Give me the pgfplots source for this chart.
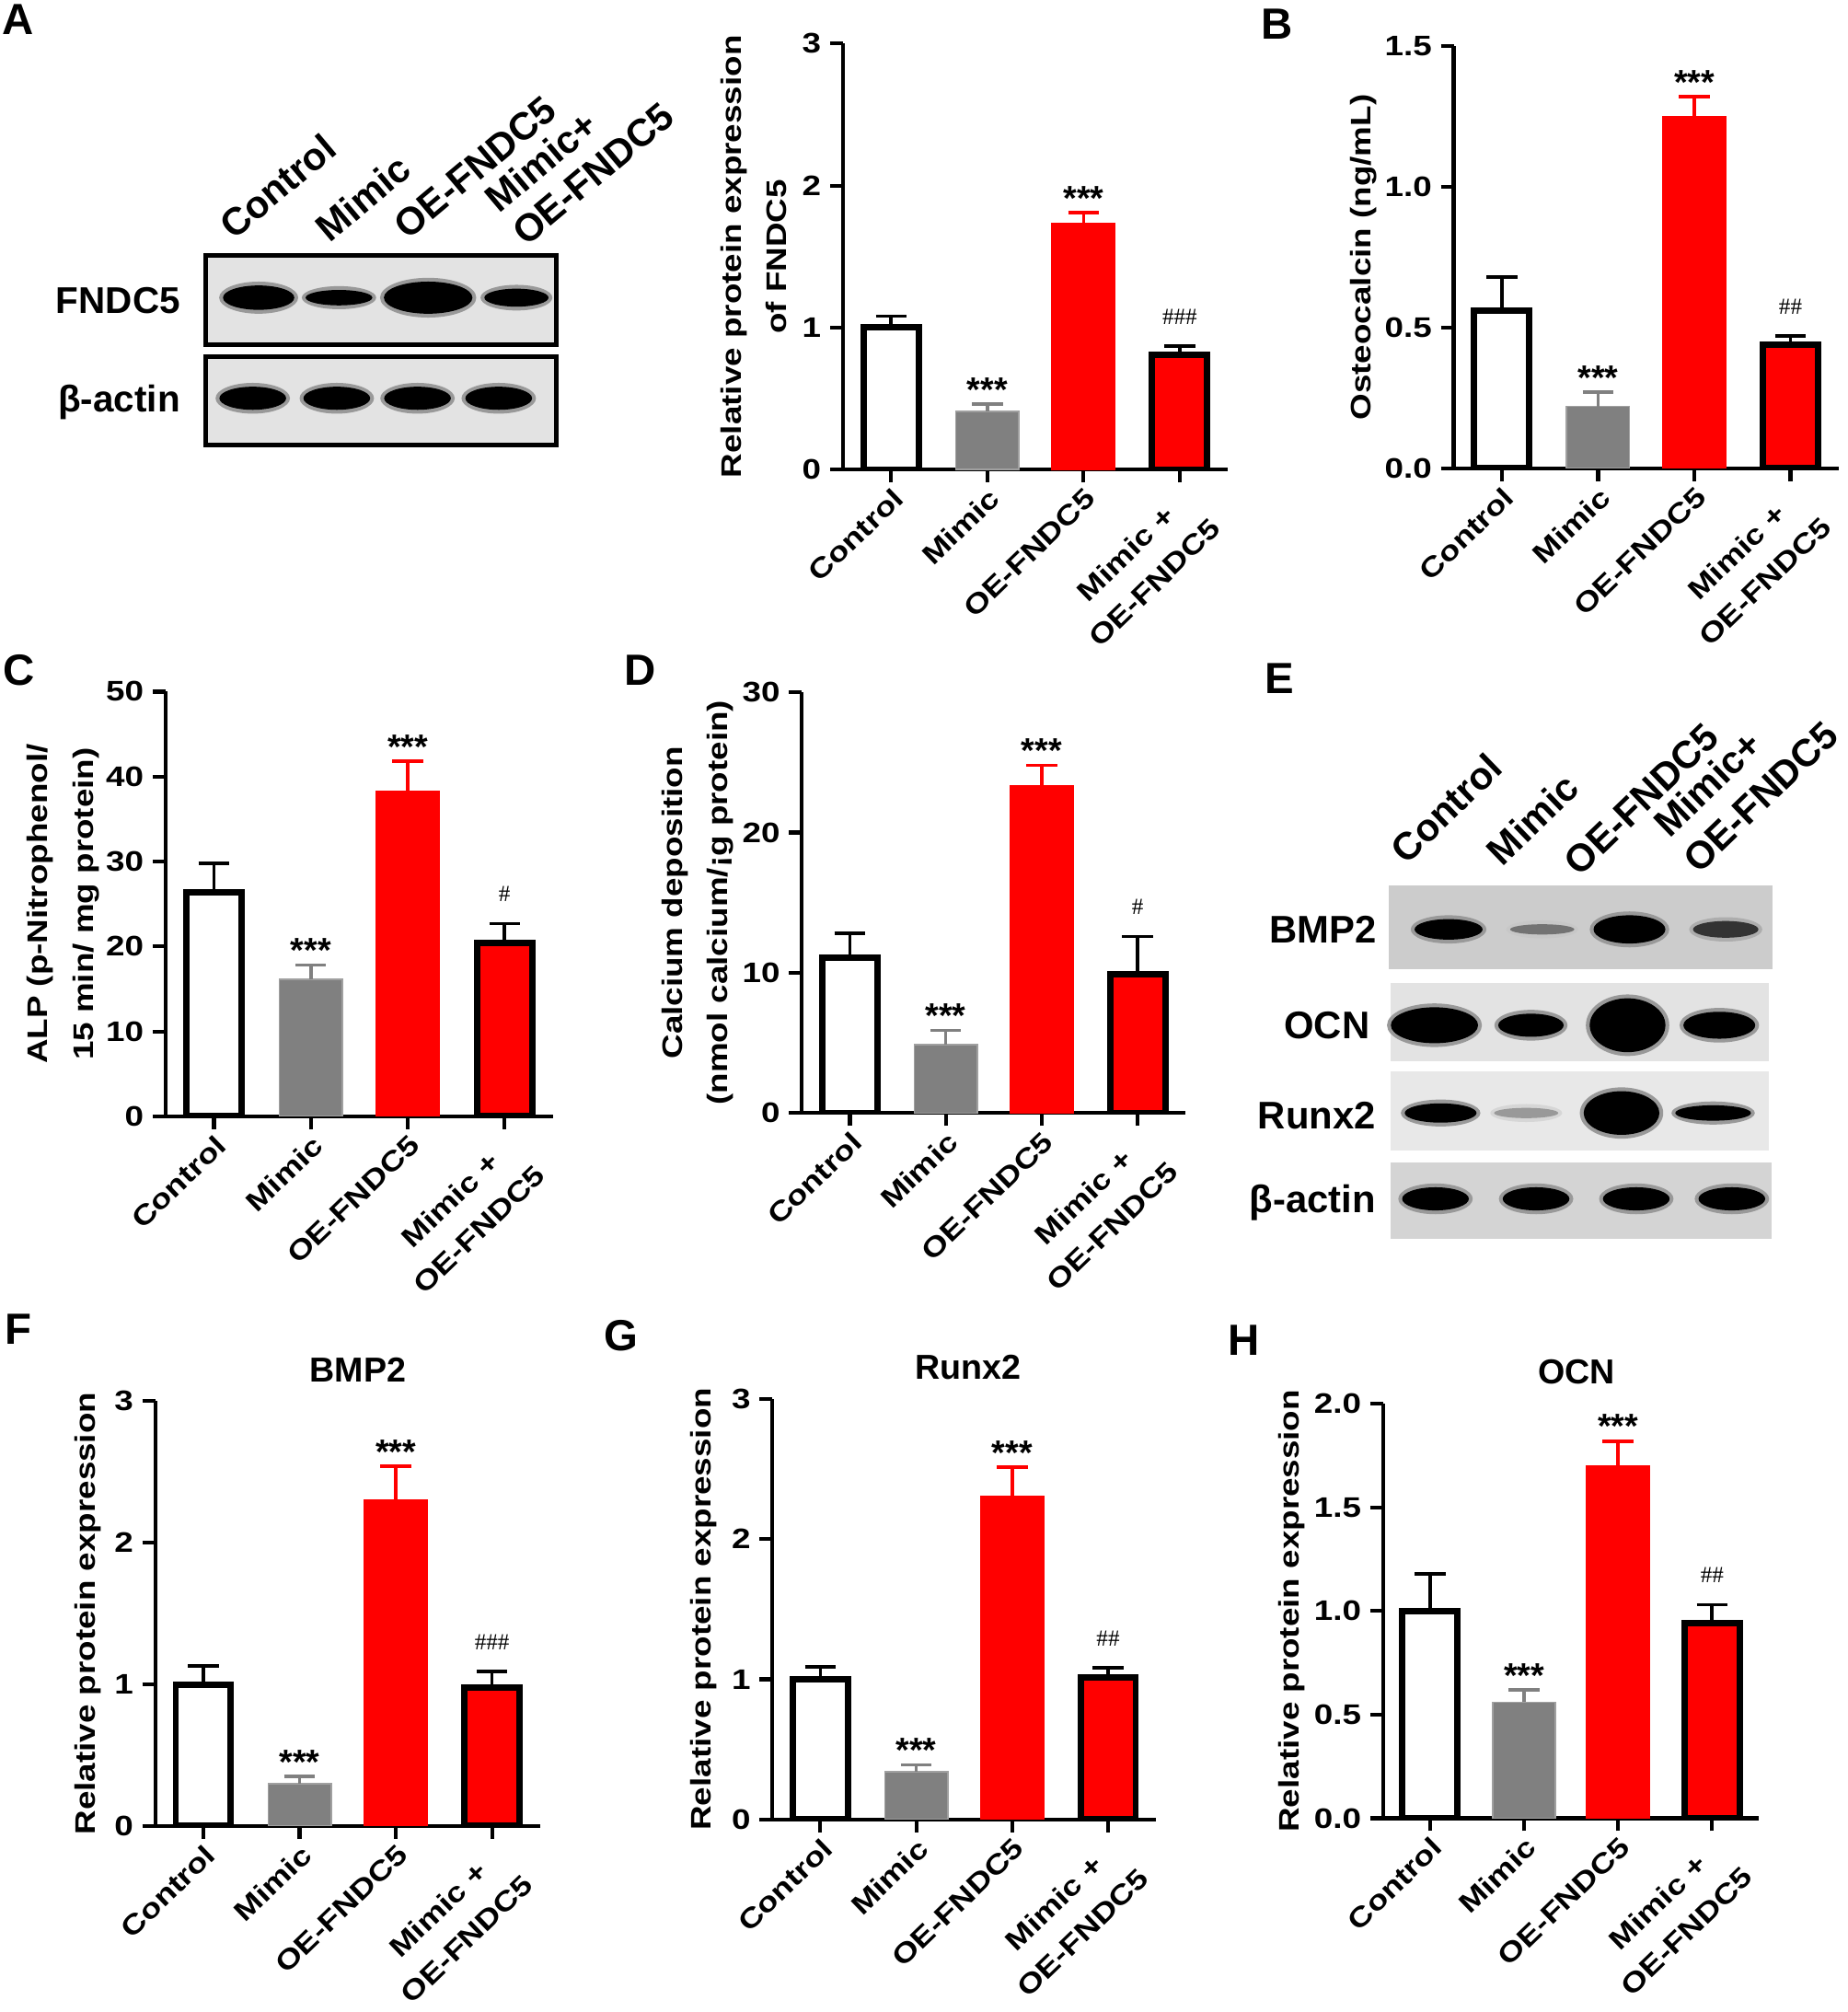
\documentclass[border=0pt]{standalone}
\usepackage{fontspec}
\setmainfont{Liberation Sans}
\newfontfamily\widefont[FakeStretch=1.2]{Liberation Sans}
\newfontfamily\hashfont{Liberation Serif}
\usepackage{pgfplots}
\pgfplotsset{compat=1.18}

\definecolor{mygray}{RGB}{128,128,128}
\definecolor{myred}{RGB}{255,0,0}
\colorlet{bandk}{black}
\colorlet{bandm}{black!80}
\colorlet{bandf}{black!55}
\colorlet{bandg}{black!40}

\newcommand\ylfont{\fontsize{11}{17.8}\widefont\bfseries}
\newcommand\ytfont{\fontsize{11}{13}\widefont\bfseries}
\newcommand\xtfont{\fontsize{10.8}{16}\widefont\bfseries}
\newcommand\ttfont{\fontsize{13.5}{16}\selectfont\bfseries}
\newcommand\lettfont{\fontsize{17}{20}\selectfont\bfseries}
\newcommand\blotfont{\fontsize{14.5}{17}\selectfont\bfseries}
\newcommand\colfont{\fontsize{15}{18}\selectfont\bfseries}

% x y w h colour (display pixels)
\newcommand\band[5]{%
  \fill[#5!40!white] (#1,#2) ellipse [x radius={#3/2+3}, y radius={#4/2+3}];
  \fill[#5] (#1,#2) ellipse [x radius={#3/2}, y radius={#4/2}];}

\tikzset{
  stars/.style={anchor=base, inner sep=0pt, yshift=1pt, font=\fontsize{13.5}{14}\selectfont\bfseries},
  hashes/.style={anchor=base, inner sep=0pt, yshift=8.5pt, font=\fontsize{9}{10}\hashfont},
}

\pgfplotsset{
  panel/.style={
    scale only axis, anchor=south west, width=150pt,
    xmin=-0.5, xmax=3.5, ymin=0,
    axis x line*=bottom, axis y line*=left, tick pos=left,
    axis line style={line width=1.5pt, black},
    tick style={line width=1.5pt, black},
    major tick length=5pt, tick align=outside,
    xtick={0,1,2,3},
    xticklabels={Control,Mimic,OE-FNDC5,{Mimic +\\OE-FNDC5}},
    xticklabel style={font=\xtfont, rotate=44, anchor=north east, align=center, inner sep=1pt},
    yticklabel style={font=\ytfont},
    ylabel style={font=\ylfont, align=center, anchor=center},
    title style={font=\ttfont, anchor=center, yshift=6.3pt},
    clip mode=individual,
  },
  errb/.style={
    /pgfplots/error bars/y dir=plus,
    /pgfplots/error bars/y explicit,
    /pgfplots/error bars/error bar style={line width=1.3pt, #1, solid},
    /pgfplots/error bars/error mark options={rotate=90, mark size=6pt, line width=1.3pt, #1},
  },
  ctrl/.style={ybar, bar shift=0pt, bar width=21.5pt, fill=white, draw=black, line width=2.5pt, errb=black},
  mim/.style={ybar, bar shift=0pt, bar width=24.5pt, fill=mygray, draw=mygray!75!white, line width=0.6pt, errb=mygray},
  oe/.style={ybar, bar shift=0pt, bar width=24.5pt, fill=myred, draw=myred, line width=0.6pt, errb=myred},
  moe/.style={ybar, bar shift=0pt, bar width=21.5pt, fill=myred, draw=black, line width=2.5pt, errb=black},
}

\begin{document}
\begin{tikzpicture}
\path[use as bounding box] (0,0) rectangle (720pt,784pt);

\begin{scope}[shift={(0pt,784pt)}, x=0.5pt, y=-0.5pt]
  % panel letters
  \node[font=\lettfont] at (14,15.5) {A};
  \node[font=\lettfont] at (995,19) {B};
  \node[font=\lettfont] at (15,522) {C};
  \node[font=\lettfont] at (499,522) {D};
  \node[font=\lettfont] at (997,529) {E};
  \node[font=\lettfont] at (14.5,1036) {F};
  \node[font=\lettfont] at (484,1041) {G};
  \node[font=\lettfont] at (969.5,1044.5) {H};

  % blot A
  \foreach \t/\x/\y in {Control/182/188, Mimic/257/190, OE-FNDC5/318/188, Mimic+/389/167, OE-FNDC5/410/193}
    \node[rotate=40, anchor=base west, inner sep=0pt, font=\colfont] at (\x,\y) {\t};
  \filldraw[fill=black!11, draw=black, line width=1.8pt] (160.6,199.3) rectangle (433.9,268.3);
  \filldraw[fill=black!11, draw=black, line width=1.8pt] (160.6,277.8) rectangle (433.9,346.8);
  \node[anchor=base east, inner sep=0pt, font=\blotfont] at (140.8,244.3) {FNDC5};
  \node[anchor=base east, inner sep=0pt, font=\blotfont] at (140.8,321) {β-actin};
  \band{201.6}{232}{55.6}{19}{bandk}
  \band{264.2}{232}{52}{12}{bandk}
  \band{333.7}{232}{69}{25}{bandk}
  \band{402.5}{232}{50}{14}{bandk}
  \foreach \x in {197,262.5,325.4,388.7} {\band{\x}{310.4}{52}{18}{bandk}}

  % blot E
  \foreach \t/\x/\y in {Control/1096/675, Mimic/1171/676, OE-FNDC5/1231/684, Mimic+/1301/654, OE-FNDC5/1324/682}
    \node[rotate=44, anchor=base west, inner sep=0pt, font=\colfont] at (\x,\y) {\t};
  \fill[black!20] (1082.5,690.2) rectangle (1381.7,755.4);
  \fill[black!11] (1084,766.4) rectangle (1378.6,827);
  \fill[black!9] (1084,834.8) rectangle (1378.6,896.4);
  \fill[black!17] (1084,906.3) rectangle (1381,965.4);
  \node[anchor=base east, inner sep=0pt, font=\colfont] at (1073,734.8) {BMP2};
  \node[anchor=base east, inner sep=0pt, font=\colfont] at (1068,809.7) {OCN};
  \node[anchor=base east, inner sep=0pt, font=\colfont] at (1072.6,879.7) {Runx2};
  \node[anchor=base east, inner sep=0pt, font=\colfont] at (1072.6,944.7) {β-actin};
  \band{1129}{724.3}{53}{16}{bandk}
  \band{1202}{724.3}{50}{8}{bandf}
  \band{1270}{724.3}{56}{22}{bandk}
  \band{1345}{724.3}{51}{13}{bandm}
  \band{1118}{799}{68}{28}{bandk}
  \band{1193.2}{799}{51}{18}{bandk}
  \band{1268.5}{799}{59}{42}{bandk}
  \band{1340}{799}{56}{21}{bandk}
  \band{1122.8}{867.4}{56}{15}{bandk}
  \band{1189.5}{867.4}{50}{8}{bandg}
  \band{1263.8}{867.4}{59}{34}{bandk}
  \band{1335.2}{867.4}{59}{12}{bandk}
  \foreach \x in {1118.8,1197.2,1275.3,1349.8} {\band{\x}{934.3}{52}{18}{bandk}}
\end{scope}

% A: FNDC5
\begin{axis}[panel, at={(328.5pt,601pt)}, height=166pt,
  ymax=3, ytick={0,1,2,3}, yticklabels={0,1,2,3},
  ylabel={Relative protein expression\\of FNDC5},
  ylabel style={at={(axis description cs:-0.232,0.5)}}]
\addplot[ctrl] coordinates {(0,1.00) +- (0,0.08)};
\addplot[mim]  coordinates {(1,0.41) +- (0,0.05)};
\addplot[oe]   coordinates {(2,1.73) +- (0,0.08)};
\addplot[moe]  coordinates {(3,0.81) +- (0,0.06)};
\node[stars] at (axis cs:1,0.46) {***};
\node[stars] at (axis cs:2,1.81) {***};
\node[hashes] at (axis cs:3,0.87) {\#\#\#};
\end{axis}

% B: osteocalcin
\begin{axis}[panel, at={(566.5pt,601.5pt)}, height=164.5pt,
  ymax=1.5, ytick={0,0.5,1,1.5}, yticklabels={0.0,0.5,1.0,1.5},
  ylabel={Osteocalcin (ng/mL)},
  ylabel style={at={(axis description cs:-0.233,0.5)}}]
\addplot[ctrl] coordinates {(0,0.56) +- (0,0.12)};
\addplot[mim]  coordinates {(1,0.22) +- (0,0.05)};
\addplot[oe]   coordinates {(2,1.25) +- (0,0.07)};
\addplot[moe]  coordinates {(3,0.44) +- (0,0.03)};
\node[stars] at (axis cs:1,0.27) {***};
\node[stars] at (axis cs:2,1.32) {***};
\node[hashes] at (axis cs:3,0.47) {\#\#};
\end{axis}

% C: ALP
\begin{axis}[panel, at={(64.5pt,349pt)}, height=165.5pt, width=151pt,
  ymax=50, ytick={0,10,20,30,40,50}, yticklabels={0,10,20,30,40,50},
  ylabel={ALP (p-Nitrophenol/\\15 min/ mg protein)},
  ylabel style={at={(axis description cs:-0.264,0.5)}}]
\addplot[ctrl] coordinates {(0,26.4) +- (0,3.4)};
\addplot[mim]  coordinates {(1,16.1) +- (0,1.7)};
\addplot[oe]   coordinates {(2,38.3) +- (0,3.5)};
\addplot[moe]  coordinates {(3,20.4) +- (0,2.3)};
\node[stars] at (axis cs:1,17.8) {***};
\node[stars] at (axis cs:2,41.8) {***};
\node[hashes] at (axis cs:3,22.7) {\#};
\end{axis}

% D: calcium deposition
\begin{axis}[panel, at={(312.5pt,350.25pt)}, height=164pt, width=149.5pt,
  ymax=30, ytick={0,10,20,30}, yticklabels={0,10,20,30},
  ylabel={Calcium deposition\\(nmol calcium/¡g protein)},
  ylabel style={at={(axis description cs:-0.272,0.5)}}]
\addplot[ctrl] coordinates {(0,11.1) +- (0,1.7)};
\addplot[mim]  coordinates {(1,4.9) +- (0,1.0)};
\addplot[oe]   coordinates {(2,23.3) +- (0,1.5)};
\addplot[moe]  coordinates {(3,9.9) +- (0,2.7)};
\node[stars] at (axis cs:1,5.9) {***};
\node[stars] at (axis cs:2,24.8) {***};
\node[hashes] at (axis cs:3,12.6) {\#};
\end{axis}

% F: BMP2
\begin{axis}[panel, at={(60.5pt,72.5pt)}, height=165.5pt,
  ymax=3, ytick={0,1,2,3}, yticklabels={0,1,2,3},
  ylabel={Relative protein expression},
  ylabel style={at={(axis description cs:-0.175,0.5)}},
  title={BMP2}, title style={at={(axis description cs:0.527,1)}}]
\addplot[ctrl] coordinates {(0,1.00) +- (0,0.13)};
\addplot[mim]  coordinates {(1,0.30) +- (0,0.05)};
\addplot[oe]   coordinates {(2,2.30) +- (0,0.24)};
\addplot[moe]  coordinates {(3,0.98) +- (0,0.11)};
\node[stars] at (axis cs:1,0.35) {***};
\node[stars] at (axis cs:2,2.54) {***};
\node[hashes] at (axis cs:3,1.09) {\#\#\#};
\end{axis}

% G: Runx2
\begin{axis}[panel, at={(301pt,75pt)}, height=164pt, width=149.5pt,
  ymax=3, ytick={0,1,2,3}, yticklabels={0,1,2,3},
  ylabel={Relative protein expression},
  ylabel style={at={(axis description cs:-0.18,0.5)}},
  title={Runx2}, title style={at={(axis description cs:0.511,1)}}]
\addplot[ctrl] coordinates {(0,1.00) +- (0,0.09)};
\addplot[mim]  coordinates {(1,0.34) +- (0,0.05)};
\addplot[oe]   coordinates {(2,2.30) +- (0,0.21)};
\addplot[moe]  coordinates {(3,1.01) +- (0,0.07)};
\node[stars] at (axis cs:1,0.39) {***};
\node[stars] at (axis cs:2,2.51) {***};
\node[hashes] at (axis cs:3,1.08) {\#\#};
\end{axis}

% H: OCN
\begin{axis}[panel, at={(539pt,75.5pt)}, height=161.5pt, width=146.5pt,
  ymax=2, ytick={0,0.5,1,1.5,2}, yticklabels={0.0,0.5,1.0,1.5,2.0},
  ylabel={Relative protein expression},
  ylabel style={at={(axis description cs:-0.242,0.5)}},
  title={OCN}, title style={at={(axis description cs:0.515,1)}}]
\addplot[ctrl] coordinates {(0,1.00) +- (0,0.18)};
\addplot[mim]  coordinates {(1,0.56) +- (0,0.06)};
\addplot[oe]   coordinates {(2,1.70) +- (0,0.12)};
\addplot[moe]  coordinates {(3,0.94) +- (0,0.09)};
\node[stars] at (axis cs:1,0.62) {***};
\node[stars] at (axis cs:2,1.82) {***};
\node[hashes] at (axis cs:3,1.03) {\#\#};
\end{axis}
\end{tikzpicture}
\end{document}
